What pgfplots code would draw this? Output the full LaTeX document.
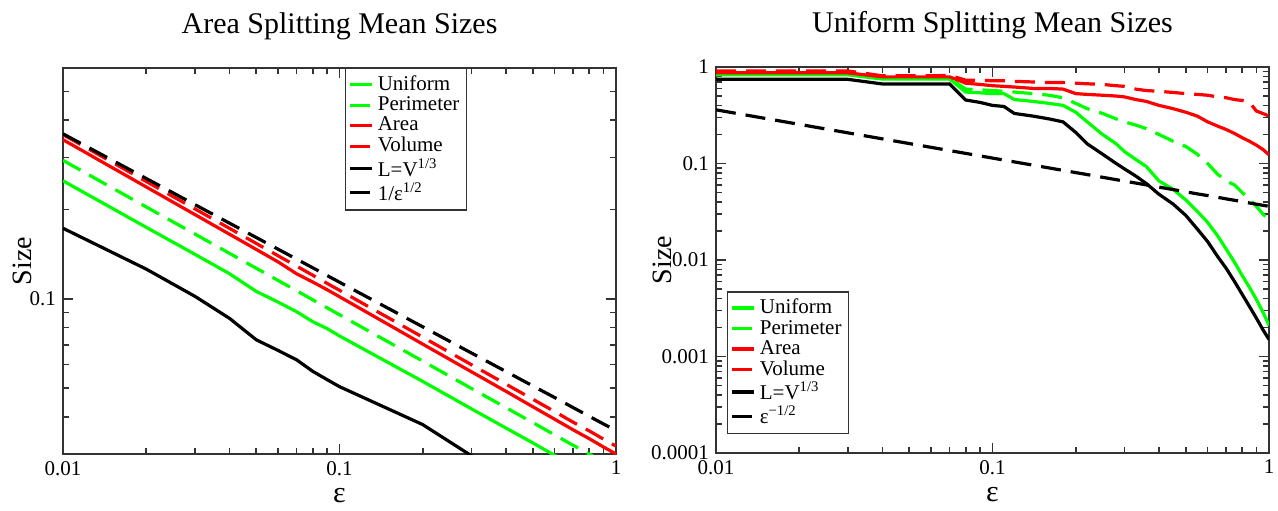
\documentclass[border=0pt]{standalone}
\usepackage{fontspec}
\setmainfont{Liberation Serif}
\usepackage{pgfplots}
\usepackage{pgfplotstable}
\pgfplotsset{compat=1.18}

\definecolor{xgreen}{RGB}{0,255,0}
\definecolor{xred}{RGB}{255,0,0}

% left panel: area splitting
\pgfplotstableread{
e     U       P       A       V       L       D
0.01  0.250   0.293   0.344   0.358   0.173   0.360
0.02  0.1743  0.2041  0.2384  0.2487  0.126   0.2546
0.03  0.1413  0.1654  0.1924  0.2011  0.102   0.2078
0.04  0.1216  0.1424  0.1652  0.1729  0.086   0.1800
0.05  0.1060  0.1268  0.1468  0.1538  0.0728  0.1610
0.06  0.0975  0.1153  0.1332  0.1397  0.0670  0.1470
0.07  0.0905  0.1065  0.1215  0.1289  0.0623  0.1361
0.08  0.0838  0.0993  0.1140  0.1202  0.0570  0.1273
0.09  0.0795  0.0934  0.1075  0.1129  0.0535  0.1200
0.1   0.0750  0.0884  0.1017  0.1069  0.0506  0.1138
0.2   0.0527  0.0617  0.0704  0.0743  0.0377  0.0805
0.3   0.0426  0.0499  0.0568  0.0600  0.0296  0.0657
0.4   0.0367  0.0430  0.0488  0.0516  0.0255  0.0569
0.5   0.0327  0.0383  0.0433  0.0459  0.0228  0.0509
0.6   0.0297  0.0348  0.0393  0.0417  0.0208  0.0465
0.7   0.0274  0.0321  0.0362  0.0384  0.0192  0.0430
0.8   0.0256  0.0300  0.0338  0.0359  0.0180  0.0402
0.9   0.0241  0.0282  0.0317  0.0337  0.0170  0.0379
1.0   0.0228  0.0267  0.0300  0.0319  0.0162  0.0360
}\areatab

% right panel: uniform splitting
\pgfplotstableread{
e     U       P      A      V      L       D
0.01  0.83    0.85   0.87   0.91   0.745   0.360
0.02  0.83    0.85   0.87   0.91   0.745   0.2546
0.03  0.83    0.85   0.87   0.91   0.745   0.2078
0.04  0.75    0.76   0.79   0.81   0.667   0.1800
0.05  0.75    0.76   0.79   0.81   0.667   0.1610
0.06  0.75    0.76   0.79   0.81   0.667   0.1470
0.07  0.75    0.76   0.79   0.82   0.667   0.1361
0.08  0.55    0.59   0.68   0.73   0.455   0.1273
0.09  0.54    0.58   0.66   0.73   0.43    0.1200
0.10  0.53    0.57   0.64   0.72   0.40    0.1138
0.11  0.53    0.56   0.63   0.72   0.39    0.1085
0.12  0.46    0.55   0.62   0.71   0.33    0.1039
0.14  0.44    0.53   0.60   0.70   0.31    0.0962
0.16  0.42    0.51   0.60   0.69   0.29    0.0900
0.18  0.40    0.48   0.59   0.69   0.27    0.0849
0.20  0.34    0.42   0.53   0.68   0.21    0.0805
0.22  0.27    0.37   0.52   0.67   0.16    0.0768
0.25  0.20    0.33   0.51   0.66   0.125   0.0720
0.28  0.16    0.29   0.50   0.64   0.100   0.0680
0.30  0.133   0.27   0.49   0.63   0.088   0.0657
0.33  0.11    0.25   0.46   0.59   0.074   0.0627
0.36  0.093   0.23   0.44   0.57   0.062   0.0600
0.40  0.066   0.20   0.40   0.56   0.048   0.0569
0.45  0.054   0.17   0.37   0.545  0.038   0.0537
0.50  0.042   0.15   0.34   0.53   0.029   0.0509
0.55  0.032   0.125  0.31   0.52   0.021   0.0485
0.60  0.0245  0.100  0.27   0.51   0.0155  0.0465
0.65  0.018   0.078  0.245  0.49   0.011   0.0447
0.70  0.013   0.066  0.225  0.48   0.0082  0.0430
0.75  0.0095  0.060  0.205  0.46   0.0060  0.0416
0.80  0.0069  0.050  0.185  0.45   0.0044  0.0402
0.85  0.0052  0.043  0.17   0.43   0.0033  0.0390
0.90  0.0039  0.036  0.155  0.35   0.0025  0.0379
0.95  0.0029  0.030  0.14   0.33   0.0019  0.0369
1.00  0.0021  0.026  0.123  0.31   0.0015  0.0360
}\unitab

\pgfplotsset{
  legend image code/.code={\draw[#1] (0pt,0pt) -- (11pt,0pt);},
  dsh/.style={dash pattern=on 10pt off 5pt},
}

\begin{document}
\begin{tikzpicture}
\useasboundingbox (0,0) rectangle (639pt,255pt);

\begin{axis}[
  scale only axis, width=276.5pt, height=193pt,
  at={(31.5pt,28pt)}, anchor=south west,
  clip mode=individual,
  xmode=log, ymode=log,
  xmin=0.01, xmax=1, ymin=0.03, ymax=0.6,
  xtick={0.01,0.1,1}, xticklabels={0.01,0.1,1},
  minor xtick={0.02,0.03,0.04,0.05,0.06,0.07,0.08,0.09,0.2,0.3,0.4,0.5,0.6,0.7,0.8,0.9},
  ytick={0.1}, yticklabels={0.1},
  minor ytick={0.03,0.04,0.05,0.06,0.07,0.08,0.09,0.2,0.3,0.4,0.5,0.6},
  axis line style={black!80, line width=0.9pt},
  every tick/.style={black!80, line width=0.8pt},
  major tick length=5pt, minor tick length=2.8pt,
  tick label style={font=\fontsize{10.5}{12}\selectfont},
  xlabel={ε}, ylabel={Size},
  xlabel style={at={(axis description cs:0.5,-0.125)}, anchor=base, font=\fontsize{15}{18}\selectfont},
  ylabel style={at={(axis description cs:-0.057,0.5)}, anchor=base, font=\fontsize{14}{16}\selectfont},
  legend cell align=left,
  legend style={at={(0.51,1)}, anchor=north west, draw=black!80, line width=0.6pt,
    inner sep=1.5pt, font=\fontsize{10.5}{11}\selectfont, row sep=-2.3pt},
  every axis plot/.append style={line width=1.6pt},
]
\addplot[xgreen] table[x=e,y=U] {\areatab};
\addplot[xgreen, dsh] table[x=e,y=P] {\areatab};
\addplot[xred] table[x=e,y=A] {\areatab};
\addplot[xred, dsh] table[x=e,y=V] {\areatab};
\addplot[black] table[x=e,y=L] {\areatab};
\addplot[black, dsh] table[x=e,y=D] {\areatab};
\legend{Uniform, Perimeter, Area, Volume, L=V\textsuperscript{1/3}, 1/ε\textsuperscript{1/2}}
\node[anchor=base, font=\fontsize{15}{18}\selectfont] at (axis description cs:0.5,1.09) {Area Splitting Mean Sizes};
\end{axis}

\begin{axis}[
  scale only axis, width=276.5pt, height=193pt,
  at={(358pt,28.5pt)}, anchor=south west,
  clip mode=individual,
  xmode=log, ymode=log,
  xmin=0.01, xmax=1, ymin=0.0001, ymax=1,
  xtick={0.01,0.1,1}, xticklabels={0.01,0.1,1},
  minor xtick={0.02,0.03,0.04,0.05,0.06,0.07,0.08,0.09,0.2,0.3,0.4,0.5,0.6,0.7,0.8,0.9},
  ytick={0.0001,0.001,0.01,0.1,1}, yticklabels={0.0001,0.001,0.01,0.1,1},
  minor ytick={0.0002,0.0003,0.0004,0.0005,0.0006,0.0007,0.0008,0.0009,
               0.002,0.003,0.004,0.005,0.006,0.007,0.008,0.009,
               0.02,0.03,0.04,0.05,0.06,0.07,0.08,0.09,
               0.2,0.3,0.4,0.5,0.6,0.7,0.8,0.9},
  axis line style={black!80, line width=0.9pt},
  every tick/.style={black!80, line width=0.8pt},
  major tick length=5pt, minor tick length=2.8pt,
  tick label style={font=\fontsize{10.5}{12}\selectfont},
  xlabel={ε}, ylabel={Size},
  xlabel style={at={(axis description cs:0.5,-0.125)}, anchor=base, font=\fontsize{15}{18}\selectfont},
  ylabel style={at={(axis description cs:-0.08,0.5)}, anchor=base, font=\fontsize{14}{16}\selectfont},
  legend cell align=left,
  legend style={at={(0.02,0.049)}, anchor=south west, draw=black!80, line width=0.6pt,
    inner sep=1.5pt, font=\fontsize{10.5}{11}\selectfont, row sep=-2.3pt},
  every axis plot/.append style={line width=1.6pt},
]
\addplot[xgreen] table[x=e,y=U] {\unitab};
\addplot[xgreen, dsh] table[x=e,y=P] {\unitab};
\addplot[xred] table[x=e,y=A] {\unitab};
\addplot[xred, dsh] table[x=e,y=V] {\unitab};
\addplot[black] table[x=e,y=L] {\unitab};
\addplot[black, dsh] table[x=e,y=D] {\unitab};
\legend{Uniform, Perimeter, Area, Volume, L=V\textsuperscript{1/3}, ε\textsuperscript{−1/2}}
\node[anchor=base, font=\fontsize{15}{18}\selectfont] at (axis description cs:0.5,1.09) {Uniform Splitting Mean Sizes};
\end{axis}
\end{tikzpicture}
\end{document}
